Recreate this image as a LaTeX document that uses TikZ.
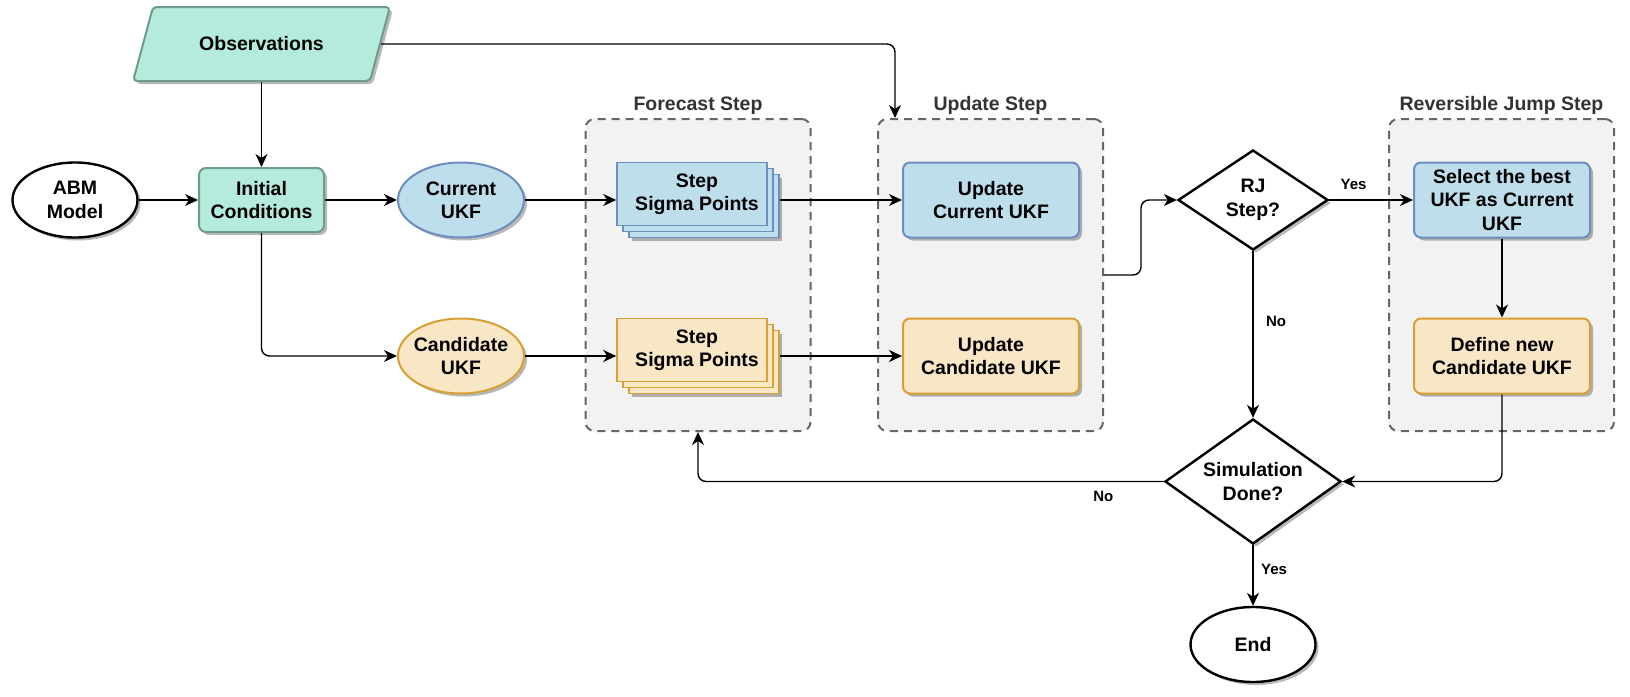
\documentclass[tikz,border=0pt]{standalone}
\usepackage{fontspec}
\setmainfont{Liberation Sans}
\usetikzlibrary{shapes.geometric,shadows,arrows.meta}
\definecolor{grnfill}{HTML}{B4EBDD}
\definecolor{grnline}{HTML}{6E9C8C}
\definecolor{bluefill}{HTML}{BEDEEC}
\definecolor{blueline}{HTML}{6C8EBF}
\definecolor{orfill}{HTML}{F9E6C5}
\definecolor{orline}{HTML}{D6A035}
\definecolor{cntfill}{HTML}{F2F2F2}
\definecolor{cntline}{HTML}{666666}
\definecolor{cnttext}{HTML}{333333}
\begin{document}
\begin{tikzpicture}[x=1pt,y=-1pt,
  txt/.style={font=\bfseries\fontsize{19.5}{23.4}\selectfont, align=center, inner sep=0pt, text=black},
  shad/.style={drop shadow={shadow xshift=3pt,shadow yshift=-3pt,opacity=0.28,fill=black}},
  ell/.style={ellipse, draw, line width=2pt, minimum width=125pt, minimum height=75pt, inner sep=0pt, shad},
  blk/.style={draw=black, fill=white, line width=2.4pt},
  grn/.style={draw=grnline, fill=grnfill},
  blu/.style={draw=blueline, fill=bluefill},
  org/.style={draw=orline, fill=orfill},
  rbox/.style={rectangle, rounded corners=7pt, line width=2pt, minimum width=176pt, minimum height=75pt, inner sep=0pt, txt, shad},
  stackbox/.style={rectangle, line width=1.6pt, minimum width=150pt, minimum height=63pt, inner sep=0pt,
     drop shadow={shadow xshift=15pt,shadow yshift=-15pt,opacity=0.28,fill=black},
     copy shadow={shadow xshift=12pt,shadow yshift=-12pt},
     copy shadow={shadow xshift=6pt,shadow yshift=-6pt}},
  dia/.style={diamond, blk, inner sep=0pt, shad},
  cnt/.style={rectangle, rounded corners=9pt, draw=cntline, fill=cntfill, line width=2pt, dash pattern=on 8pt off 6pt, minimum width=225pt, minimum height=312pt},
  cntlbl/.style={font=\bfseries\fontsize{19.5}{23.4}\selectfont, text=cnttext, inner sep=0pt},
  conn/.style={draw=black, line width=1.4pt, rounded corners=8pt, -{Stealth[length=13pt,width=12pt,inset=4pt]}},
  elbl/.style={font=\bfseries\fontsize{15}{18}\selectfont, inner sep=0pt, text=black}
]
\useasboundingbox (0,0) rectangle (1630,696);

% containers
\node[cnt, label={[cntlbl,label distance=3pt]above:Forecast Step}] (fc) at (698,275) {};
\node[cnt, label={[cntlbl,label distance=3pt]above:Update Step}] (upd) at (990.5,275) {};
\node[cnt, label={[cntlbl,label distance=3pt]above:Reversible Jump Step}] (rjc) at (1501.5,275) {};

% nodes
\node[trapezium, trapezium stretches=true, trapezium left angle=51.4, trapezium right angle=128.6,
      minimum width=257pt, minimum height=74pt, rounded corners=4pt, line width=2pt, grn, shad, txt] (obs) at (261.5,44) {Observations};
\node[ell, blk, label={[txt]center:{ABM\\Model}}] (abm) at (75,200) {};
\node[rbox, grn, minimum width=125pt, minimum height=64pt] (ic) at (261.5,200) {Initial\\Conditions};
\node[ell, blu, minimum width=126pt, label={[txt]center:{Current\\UKF}}] (cur) at (461,200) {};
\node[ell, org, minimum width=126pt, label={[txt]center:{Candidate\\UKF}}] (cand) at (461,356) {};
\node[stackbox, blu, label={[txt,xshift=5pt]center:{Step\\Sigma Points}}] (stepA) at (692,194) {};
\node[stackbox, org, label={[txt,xshift=5pt]center:{Step\\Sigma Points}}] (stepB) at (692,350) {};
\node[rbox, blu] (updcur) at (991,200) {Update\\Current UKF};
\node[rbox, org] (updcand) at (991,356) {Update\\Candidate UKF};
\node[rbox, blu] (sel) at (1502,200) {Select the best\\UKF as Current\\UKF};
\node[rbox, org] (def) at (1502,356) {Define new\\Candidate UKF};
\node[dia, minimum width=150pt, minimum height=100pt, label={[txt]center:{RJ\\Step?}}] (rj) at (1253,200) {};
\node[dia, minimum width=176pt, minimum height=125pt, label={[txt]center:{Simulation\\Done?}}] (sim) at (1253,481.5) {};
\node[ell, blk, label={[txt]center:End}] (end) at (1253,644.5) {};

% connectors
\draw[conn] (ic.north |- obs.south) -- (ic.north);
\draw[conn] (obs.east) -| ([xshift=-95.5pt]upd.north);
\draw[conn] (abm.east) -- (ic.west);
\draw[conn] (ic.east) -- (cur.west);
\draw[conn] (ic.south) |- (cand.west);
\draw[conn] (cur.east) -- (cur.east -| stepA.west);
\draw[conn] (cand.east) -- (cand.east -| stepB.west);
\draw[conn] ([xshift=12pt,yshift=-6pt]stepA.east) -- (updcur.west);
\draw[conn] ([xshift=12pt,yshift=-6pt]stepB.east) -- (updcand.west);
\draw[conn] (upd.east) -- ++(37,0) |- (rj.west);
\draw[conn] (rj.east) -- node[elbl, pos=0.29, yshift=16pt] (yes1) {Yes} (sel.west);
\draw[conn] (sel.south) -- (def.north);
\draw[conn] (def.south) |- (sim.east);
\draw[conn] (rj.south) -- node[elbl, pos=0.42, xshift=23pt] (no1) {No} (sim.north);
\draw[conn] (sim.west) -| node[elbl, pos=0.065, yshift=-15pt] (no2) {No} (fc.south);
\draw[conn] (sim.south) -- node[elbl, pos=0.4, xshift=21pt] (yes2) {Yes} (end.north);
\end{tikzpicture}
\end{document}
